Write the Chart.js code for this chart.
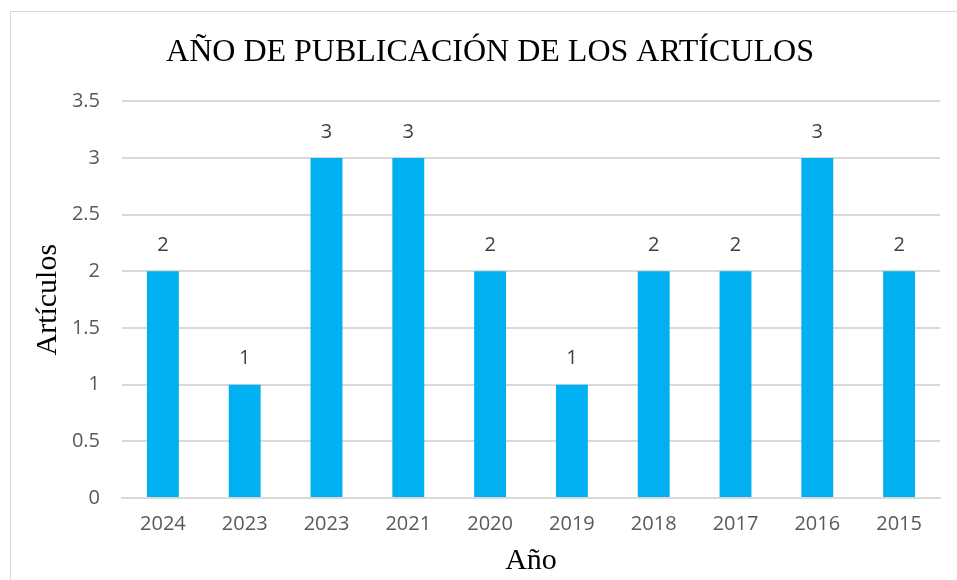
<!DOCTYPE html>
<html>
<head>
<meta charset="utf-8">
<script src="https://cdn.jsdelivr.net/npm/chart.js@4"></script>
<style>
  html, body { margin: 0; padding: 0; background: #fff; overflow: hidden; }
  #wrap { position: relative; width: 957px; height: 580px; }
  #frame { position: absolute; left: 10px; top: 11px; width: 1000px; height: 600px; border: 1px solid #d9d9d9; box-sizing: border-box; }
  canvas { position: absolute; left: 0; top: 0; }
</style>
</head>
<body>
<div id="wrap">
  <div id="frame"></div>
  <canvas id="yearChart" width="957" height="580"></canvas>
</div>
<script>
// datos del grafico
var years = ["2024", "2023", "2023", "2021", "2020", "2019", "2018", "2017", "2016", "2015"];
var articles = [2, 1, 3, 3, 2, 1, 2, 2, 3, 2];
var yTicks = [0, 0.5, 1, 1.5, 2, 2.5, 3, 3.5];

var sansFont = "'Open Sans', 'Liberation Sans', sans-serif";
var serifFont = "'Liberation Serif', 'Times New Roman', serif";

// etiquetas de valor encima de cada barra
var valueLabels = {
  id: "valueLabels",
  afterDatasetsDraw: function (chart) {
    const ctx = chart.ctx;
    const meta = chart.getDatasetMeta(0);
    ctx.save();
    ctx.font = "20px " + sansFont;
    ctx.fillStyle = "#404040";
    ctx.textAlign = "center";
    ctx.textBaseline = "middle";
    meta.data.forEach(function (bar, i) {
      ctx.fillText(articles[i], bar.x, bar.y - 26);
    });
    ctx.restore();
  }
};

const ctx = document.getElementById("yearChart").getContext("2d");

new Chart(ctx, {
  type: "bar",
  data: {
    labels: years,
    datasets: [{
      label: "Artículos",
      data: articles,
      backgroundColor: "#00b0f0",
      borderWidth: 0,
      barPercentage: 0.39,
      categoryPercentage: 1
    }]
  },
  options: {
    responsive: false,
    animation: false,
    layout: { padding: { left: 40, right: 17, top: 0, bottom: 0 } },
    plugins: {
      legend: { display: false },
      tooltip: { enabled: false },
      title: {
        display: true,
        text: "AÑO DE PUBLICACIÓN DE LOS ARTÍCULOS",
        color: "#000",
        font: { family: serifFont, size: 32, weight: "normal", lineHeight: 1.2 },
        padding: { top: 33, bottom: 30 }
      }
    },
    scales: {
      x: {
        grid: { display: false, drawTicks: false },
        border: { display: true, color: "#d9d9d9", width: 2 },
        ticks: { color: "#595959", font: { family: sansFont, size: 20 }, padding: 14, maxRotation: 0 },
        title: {
          display: true,
          text: "Año",
          color: "#000",
          font: { family: serifFont, size: 30, lineHeight: 1.2 },
          padding: { top: 0, bottom: 1 }
        },
        afterFit: function (scale) { scale.height = 82; }
      },
      y: {
        min: 0,
        max: 3.5,
        afterBuildTicks: function (scale) {
          scale.ticks = yTicks.map(function (v) { return { value: v }; });
        },
        grid: { color: "#d9d9d9", lineWidth: 2, drawTicks: false },
        border: { display: false },
        ticks: {
          color: "#595959",
          font: { family: sansFont, size: 20 },
          padding: 22,
          callback: function (val) { return String(val); }
        },
        title: {
          display: true,
          text: "Artículos",
          color: "#000",
          font: { family: serifFont, size: 30, lineHeight: 1.2 },
          padding: { top: -10, bottom: 0 }
        },
        afterFit: function (scale) { scale.width = 82; }
      }
    }
  },
  plugins: [valueLabels]
});
</script>
</body>
</html>
